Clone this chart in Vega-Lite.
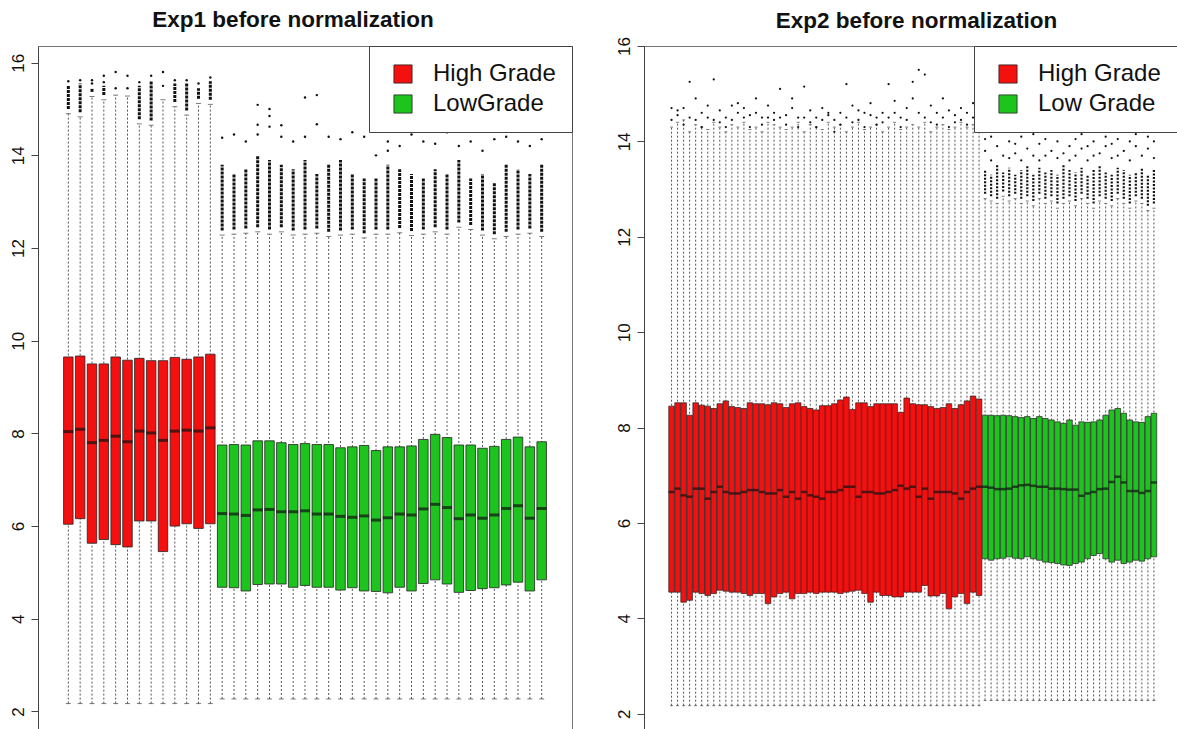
{
"$schema": "https://vega.github.io/schema/vega-lite/v6.json",
"padding": {"left": 0, "top": 8, "right": 0, "bottom": 0},
"spacing": 72,
"bounds": "flush",
"config": {
  "font": "Liberation Sans",
  "view": {"stroke": "#777", "strokeWidth": 1},
  "axis": {"grid": false},
  "title": {"fontSize": 22.5, "font": "Liberation Sans", "fontWeight": "bold", "color": "#111", "frame": "group"}
},
"resolve": {"scale": {"color": "independent"}},
"datasets": {
"b1": [
{"i":1,"g":"High Grade","lo":2.17,"q1":6.04,"md":8.04,"q3":9.65,"hi":14.9,"dl":15.0,"dh":15.5},
{"i":2,"g":"High Grade","lo":2.17,"q1":6.16,"md":8.09,"q3":9.67,"hi":14.83,"dl":14.93,"dh":15.55},
{"i":3,"g":"High Grade","lo":2.17,"q1":5.63,"md":7.80,"q3":9.50,"hi":15.27,"dl":15.37,"dh":15.45},
{"i":4,"g":"High Grade","lo":2.17,"q1":5.71,"md":7.85,"q3":9.50,"hi":15.2,"dl":15.3,"dh":15.5},
{"i":5,"g":"High Grade","lo":2.17,"q1":5.60,"md":7.94,"q3":9.65,"hi":15.3,"dl":null,"dh":null},
{"i":6,"g":"High Grade","lo":2.17,"q1":5.55,"md":7.82,"q3":9.58,"hi":15.28,"dl":null,"dh":null},
{"i":7,"g":"High Grade","lo":2.17,"q1":6.11,"md":8.05,"q3":9.62,"hi":14.68,"dl":14.78,"dh":15.5},
{"i":8,"g":"High Grade","lo":2.17,"q1":6.11,"md":8.01,"q3":9.57,"hi":14.65,"dl":14.75,"dh":15.6},
{"i":9,"g":"High Grade","lo":2.17,"q1":5.45,"md":7.85,"q3":9.57,"hi":15.2,"dl":null,"dh":null},
{"i":10,"g":"High Grade","lo":2.17,"q1":6.00,"md":8.05,"q3":9.64,"hi":15.05,"dl":15.15,"dh":15.55},
{"i":11,"g":"High Grade","lo":2.17,"q1":6.05,"md":8.07,"q3":9.60,"hi":14.87,"dl":14.97,"dh":15.55},
{"i":12,"g":"High Grade","lo":2.17,"q1":5.95,"md":8.05,"q3":9.65,"hi":15.12,"dl":15.22,"dh":15.45},
{"i":13,"g":"High Grade","lo":2.17,"q1":6.05,"md":8.12,"q3":9.71,"hi":15.1,"dl":15.2,"dh":15.6},
{"i":14,"g":"LowGrade","lo":2.27,"q1":4.68,"md":6.27,"q3":7.75,"hi":12.28,"dl":12.38,"dh":13.8},
{"i":15,"g":"LowGrade","lo":2.27,"q1":4.67,"md":6.26,"q3":7.76,"hi":12.30,"dl":12.4,"dh":13.6},
{"i":16,"g":"LowGrade","lo":2.27,"q1":4.60,"md":6.23,"q3":7.75,"hi":12.32,"dl":12.42,"dh":13.7},
{"i":17,"g":"LowGrade","lo":2.27,"q1":4.74,"md":6.35,"q3":7.84,"hi":12.35,"dl":12.45,"dh":14.0},
{"i":18,"g":"LowGrade","lo":2.27,"q1":4.75,"md":6.36,"q3":7.84,"hi":12.30,"dl":12.4,"dh":13.9},
{"i":19,"g":"LowGrade","lo":2.27,"q1":4.75,"md":6.31,"q3":7.80,"hi":12.35,"dl":12.45,"dh":13.8},
{"i":20,"g":"LowGrade","lo":2.27,"q1":4.68,"md":6.31,"q3":7.76,"hi":12.28,"dl":12.38,"dh":13.7},
{"i":21,"g":"LowGrade","lo":2.27,"q1":4.72,"md":6.33,"q3":7.78,"hi":12.30,"dl":12.4,"dh":13.9},
{"i":22,"g":"LowGrade","lo":2.27,"q1":4.68,"md":6.26,"q3":7.76,"hi":12.32,"dl":12.42,"dh":13.6},
{"i":23,"g":"LowGrade","lo":2.27,"q1":4.68,"md":6.26,"q3":7.76,"hi":12.25,"dl":12.35,"dh":13.8},
{"i":24,"g":"LowGrade","lo":2.27,"q1":4.62,"md":6.21,"q3":7.69,"hi":12.28,"dl":12.38,"dh":13.9},
{"i":25,"g":"LowGrade","lo":2.27,"q1":4.67,"md":6.19,"q3":7.71,"hi":12.30,"dl":12.4,"dh":13.6},
{"i":26,"g":"LowGrade","lo":2.27,"q1":4.60,"md":6.22,"q3":7.74,"hi":12.22,"dl":12.32,"dh":13.5},
{"i":27,"g":"LowGrade","lo":2.27,"q1":4.59,"md":6.13,"q3":7.63,"hi":12.30,"dl":12.4,"dh":13.5},
{"i":28,"g":"LowGrade","lo":2.27,"q1":4.56,"md":6.18,"q3":7.71,"hi":12.30,"dl":12.4,"dh":13.8},
{"i":29,"g":"LowGrade","lo":2.27,"q1":4.68,"md":6.26,"q3":7.71,"hi":12.33,"dl":12.43,"dh":13.7},
{"i":30,"g":"LowGrade","lo":2.27,"q1":4.60,"md":6.24,"q3":7.73,"hi":12.27,"dl":12.37,"dh":13.6},
{"i":31,"g":"LowGrade","lo":2.27,"q1":4.76,"md":6.37,"q3":7.87,"hi":12.30,"dl":12.4,"dh":13.5},
{"i":32,"g":"LowGrade","lo":2.27,"q1":4.84,"md":6.47,"q3":7.98,"hi":12.35,"dl":12.45,"dh":13.7},
{"i":33,"g":"LowGrade","lo":2.27,"q1":4.75,"md":6.40,"q3":7.91,"hi":12.30,"dl":12.4,"dh":13.6},
{"i":34,"g":"LowGrade","lo":2.27,"q1":4.57,"md":6.16,"q3":7.75,"hi":12.45,"dl":12.55,"dh":13.9},
{"i":35,"g":"LowGrade","lo":2.27,"q1":4.61,"md":6.24,"q3":7.75,"hi":12.40,"dl":12.5,"dh":13.5},
{"i":36,"g":"LowGrade","lo":2.27,"q1":4.65,"md":6.17,"q3":7.68,"hi":12.28,"dl":12.38,"dh":13.6},
{"i":37,"g":"LowGrade","lo":2.27,"q1":4.67,"md":6.24,"q3":7.72,"hi":12.20,"dl":12.3,"dh":13.4},
{"i":38,"g":"LowGrade","lo":2.27,"q1":4.73,"md":6.38,"q3":7.87,"hi":12.25,"dl":12.35,"dh":13.8},
{"i":39,"g":"LowGrade","lo":2.27,"q1":4.79,"md":6.44,"q3":7.92,"hi":12.30,"dl":12.4,"dh":13.7},
{"i":40,"g":"LowGrade","lo":2.27,"q1":4.60,"md":6.17,"q3":7.71,"hi":12.32,"dl":12.42,"dh":13.6},
{"i":41,"g":"LowGrade","lo":2.27,"q1":4.84,"md":6.38,"q3":7.82,"hi":12.25,"dl":12.35,"dh":13.8}
],
"o1": [
{"i":1,"v":15.6},{"i":2,"v":15.62},{"i":3,"v":15.62},{"i":3,"v":15.55},{"i":4,"v":15.72},{"i":4,"v":15.58},{"i":5,"v":15.8},{"i":5,"v":15.45},{"i":6,"v":15.72},{"i":6,"v":15.45},{"i":7,"v":15.58},{"i":8,"v":15.72},{"i":9,"v":15.8},{"i":9,"v":15.5},{"i":10,"v":15.62},{"i":11,"v":15.62},{"i":12,"v":15.55},{"i":13,"v":15.68},
{"i":14,"v":14.38},{"i":15,"v":14.45},{"i":16,"v":14.3},{"i":17,"v":14.66},{"i":17,"v":14.45},{"i":17,"v":15.09},{"i":18,"v":15.0},{"i":18,"v":14.85},{"i":18,"v":14.62},{"i":19,"v":14.65},{"i":19,"v":14.4},{"i":20,"v":14.3},{"i":21,"v":15.25},{"i":21,"v":14.4},{"i":22,"v":15.3},{"i":22,"v":14.67},{"i":23,"v":14.4},{"i":24,"v":14.35},{"i":25,"v":14.5},{"i":26,"v":14.4},{"i":27,"v":14.0},{"i":28,"v":14.1},{"i":28,"v":14.3},{"i":29,"v":14.2},{"i":30,"v":14.45},{"i":31,"v":14.3},{"i":32,"v":14.25},{"i":33,"v":14.5},{"i":34,"v":14.2},{"i":35,"v":14.3},{"i":36,"v":14.1},{"i":37,"v":14.35},{"i":38,"v":14.4},{"i":39,"v":14.3},{"i":40,"v":14.2},{"i":41,"v":14.35}
],
"b2": [
{"i":1,"g":"High Grade","lo":2.17,"q1":4.55,"md":6.65,"q3":8.45,"hi":14.3},
{"i":2,"g":"High Grade","lo":2.17,"q1":4.55,"md":6.72,"q3":8.52,"hi":14.4},
{"i":3,"g":"High Grade","lo":2.17,"q1":4.34,"md":6.58,"q3":8.52,"hi":14.45},
{"i":4,"g":"High Grade","lo":2.17,"q1":4.38,"md":6.55,"q3":8.26,"hi":14.2},
{"i":5,"g":"High Grade","lo":2.17,"q1":4.55,"md":6.72,"q3":8.52,"hi":14.35},
{"i":6,"g":"High Grade","lo":2.17,"q1":4.52,"md":6.72,"q3":8.47,"hi":14.3},
{"i":7,"g":"High Grade","lo":2.17,"q1":4.48,"md":6.51,"q3":8.45,"hi":14.25},
{"i":8,"g":"High Grade","lo":2.17,"q1":4.52,"md":6.65,"q3":8.40,"hi":14.4},
{"i":9,"g":"High Grade","lo":2.17,"q1":4.59,"md":6.76,"q3":8.50,"hi":14.3},
{"i":10,"g":"High Grade","lo":2.17,"q1":4.57,"md":6.65,"q3":8.56,"hi":14.2},
{"i":11,"g":"High Grade","lo":2.17,"q1":4.55,"md":6.62,"q3":8.44,"hi":14.35},
{"i":12,"g":"High Grade","lo":2.17,"q1":4.55,"md":6.62,"q3":8.42,"hi":14.3},
{"i":13,"g":"High Grade","lo":2.17,"q1":4.52,"md":6.65,"q3":8.40,"hi":14.4},
{"i":14,"g":"High Grade","lo":2.17,"q1":4.48,"md":6.69,"q3":8.52,"hi":14.25},
{"i":15,"g":"High Grade","lo":2.17,"q1":4.52,"md":6.69,"q3":8.50,"hi":14.3},
{"i":16,"g":"High Grade","lo":2.17,"q1":4.52,"md":6.65,"q3":8.50,"hi":14.2},
{"i":17,"g":"High Grade","lo":2.17,"q1":4.31,"md":6.62,"q3":8.48,"hi":14.4},
{"i":18,"g":"High Grade","lo":2.17,"q1":4.45,"md":6.62,"q3":8.52,"hi":14.35},
{"i":19,"g":"High Grade","lo":2.17,"q1":4.52,"md":6.69,"q3":8.50,"hi":14.3},
{"i":20,"g":"High Grade","lo":2.17,"q1":4.55,"md":6.55,"q3":8.42,"hi":14.25},
{"i":21,"g":"High Grade","lo":2.17,"q1":4.41,"md":6.65,"q3":8.50,"hi":14.3},
{"i":22,"g":"High Grade","lo":2.17,"q1":4.52,"md":6.51,"q3":8.52,"hi":14.4},
{"i":23,"g":"High Grade","lo":2.17,"q1":4.52,"md":6.65,"q3":8.44,"hi":14.2},
{"i":24,"g":"High Grade","lo":2.17,"q1":4.55,"md":6.58,"q3":8.40,"hi":14.35},
{"i":25,"g":"High Grade","lo":2.17,"q1":4.52,"md":6.55,"q3":8.37,"hi":14.3},
{"i":26,"g":"High Grade","lo":2.17,"q1":4.55,"md":6.51,"q3":8.46,"hi":14.25},
{"i":27,"g":"High Grade","lo":2.17,"q1":4.55,"md":6.65,"q3":8.46,"hi":14.4},
{"i":28,"g":"High Grade","lo":2.17,"q1":4.55,"md":6.65,"q3":8.50,"hi":14.3},
{"i":29,"g":"High Grade","lo":2.17,"q1":4.52,"md":6.69,"q3":8.58,"hi":14.35},
{"i":30,"g":"High Grade","lo":2.17,"q1":4.55,"md":6.76,"q3":8.64,"hi":14.2},
{"i":31,"g":"High Grade","lo":2.17,"q1":4.57,"md":6.76,"q3":8.38,"hi":14.3},
{"i":32,"g":"High Grade","lo":2.17,"q1":4.59,"md":6.55,"q3":8.52,"hi":14.4},
{"i":33,"g":"High Grade","lo":2.17,"q1":4.52,"md":6.65,"q3":8.52,"hi":14.25},
{"i":34,"g":"High Grade","lo":2.17,"q1":4.34,"md":6.65,"q3":8.44,"hi":14.3},
{"i":35,"g":"High Grade","lo":2.17,"q1":4.55,"md":6.62,"q3":8.50,"hi":14.35},
{"i":36,"g":"High Grade","lo":2.17,"q1":4.48,"md":6.62,"q3":8.50,"hi":14.2},
{"i":37,"g":"High Grade","lo":2.17,"q1":4.48,"md":6.65,"q3":8.50,"hi":14.3},
{"i":38,"g":"High Grade","lo":2.17,"q1":4.45,"md":6.69,"q3":8.50,"hi":14.4},
{"i":39,"g":"High Grade","lo":2.17,"q1":4.45,"md":6.78,"q3":8.32,"hi":14.25},
{"i":40,"g":"High Grade","lo":2.17,"q1":4.55,"md":6.72,"q3":8.62,"hi":14.3},
{"i":41,"g":"High Grade","lo":2.17,"q1":4.55,"md":6.76,"q3":8.50,"hi":14.35},
{"i":42,"g":"High Grade","lo":2.17,"q1":4.55,"md":6.55,"q3":8.48,"hi":14.3},
{"i":43,"g":"High Grade","lo":2.17,"q1":4.69,"md":6.72,"q3":8.48,"hi":14.4},
{"i":44,"g":"High Grade","lo":2.17,"q1":4.47,"md":6.51,"q3":8.44,"hi":14.2},
{"i":45,"g":"High Grade","lo":2.17,"q1":4.47,"md":6.65,"q3":8.40,"hi":14.3},
{"i":46,"g":"High Grade","lo":2.17,"q1":4.52,"md":6.65,"q3":8.42,"hi":14.35},
{"i":47,"g":"High Grade","lo":2.17,"q1":4.20,"md":6.65,"q3":8.50,"hi":14.25},
{"i":48,"g":"High Grade","lo":2.17,"q1":4.45,"md":6.62,"q3":8.40,"hi":14.3},
{"i":49,"g":"High Grade","lo":2.17,"q1":4.52,"md":6.51,"q3":8.48,"hi":14.4},
{"i":50,"g":"High Grade","lo":2.17,"q1":4.31,"md":6.65,"q3":8.56,"hi":14.3},
{"i":51,"g":"High Grade","lo":2.17,"q1":4.55,"md":6.72,"q3":8.66,"hi":14.35},
{"i":52,"g":"High Grade","lo":2.17,"q1":4.48,"md":6.76,"q3":8.60,"hi":14.25},
{"i":53,"g":"Low Grade","lo":2.28,"q1":5.25,"md":6.76,"q3":8.26,"hi":12.8,"dl":12.9,"dh":13.4},
{"i":54,"g":"Low Grade","lo":2.28,"q1":5.22,"md":6.74,"q3":8.26,"hi":12.75,"dl":12.85,"dh":13.3},
{"i":55,"g":"Low Grade","lo":2.28,"q1":5.25,"md":6.71,"q3":8.25,"hi":12.7,"dl":12.8,"dh":13.5},
{"i":56,"g":"Low Grade","lo":2.28,"q1":5.26,"md":6.71,"q3":8.26,"hi":12.85,"dl":12.95,"dh":13.35},
{"i":57,"g":"Low Grade","lo":2.28,"q1":5.29,"md":6.72,"q3":8.25,"hi":12.75,"dl":12.85,"dh":13.45},
{"i":58,"g":"Low Grade","lo":2.28,"q1":5.26,"md":6.76,"q3":8.23,"hi":12.8,"dl":12.9,"dh":13.3},
{"i":59,"g":"Low Grade","lo":2.28,"q1":5.25,"md":6.79,"q3":8.21,"hi":12.7,"dl":12.8,"dh":13.4},
{"i":60,"g":"Low Grade","lo":2.28,"q1":5.29,"md":6.80,"q3":8.23,"hi":12.75,"dl":12.85,"dh":13.5},
{"i":61,"g":"Low Grade","lo":2.28,"q1":5.25,"md":6.78,"q3":8.19,"hi":12.65,"dl":12.75,"dh":13.3},
{"i":62,"g":"Low Grade","lo":2.28,"q1":5.22,"md":6.76,"q3":8.23,"hi":12.8,"dl":12.9,"dh":13.45},
{"i":63,"g":"Low Grade","lo":2.28,"q1":5.18,"md":6.76,"q3":8.19,"hi":12.7,"dl":12.8,"dh":13.35},
{"i":64,"g":"Low Grade","lo":2.28,"q1":5.17,"md":6.72,"q3":8.16,"hi":12.75,"dl":12.85,"dh":13.4},
{"i":65,"g":"Low Grade","lo":2.28,"q1":5.15,"md":6.72,"q3":8.12,"hi":12.6,"dl":12.7,"dh":13.3},
{"i":66,"g":"Low Grade","lo":2.28,"q1":5.12,"md":6.71,"q3":8.09,"hi":12.7,"dl":12.8,"dh":13.5},
{"i":67,"g":"Low Grade","lo":2.28,"q1":5.11,"md":6.70,"q3":8.16,"hi":12.75,"dl":12.85,"dh":13.4},
{"i":68,"g":"Low Grade","lo":2.28,"q1":5.15,"md":6.70,"q3":8.05,"hi":12.65,"dl":12.75,"dh":13.35},
{"i":69,"g":"Low Grade","lo":2.28,"q1":5.18,"md":6.57,"q3":8.12,"hi":12.8,"dl":12.9,"dh":13.45},
{"i":70,"g":"Low Grade","lo":2.28,"q1":5.25,"md":6.62,"q3":8.11,"hi":12.7,"dl":12.8,"dh":13.3},
{"i":71,"g":"Low Grade","lo":2.28,"q1":5.32,"md":6.65,"q3":8.12,"hi":12.6,"dl":12.7,"dh":13.4},
{"i":72,"g":"Low Grade","lo":2.28,"q1":5.36,"md":6.71,"q3":8.16,"hi":12.75,"dl":12.85,"dh":13.5},
{"i":73,"g":"Low Grade","lo":2.28,"q1":5.25,"md":6.72,"q3":8.26,"hi":12.7,"dl":12.8,"dh":13.35},
{"i":74,"g":"Low Grade","lo":2.28,"q1":5.18,"md":6.86,"q3":8.37,"hi":12.65,"dl":12.75,"dh":13.3},
{"i":75,"g":"Low Grade","lo":2.28,"q1":5.22,"md":6.97,"q3":8.40,"hi":12.8,"dl":12.9,"dh":13.45},
{"i":76,"g":"Low Grade","lo":2.28,"q1":5.15,"md":6.85,"q3":8.30,"hi":12.7,"dl":12.8,"dh":13.4},
{"i":77,"g":"Low Grade","lo":2.28,"q1":5.18,"md":6.67,"q3":8.16,"hi":12.6,"dl":12.7,"dh":13.3},
{"i":78,"g":"Low Grade","lo":2.28,"q1":5.22,"md":6.67,"q3":8.12,"hi":12.75,"dl":12.85,"dh":13.35},
{"i":79,"g":"Low Grade","lo":2.28,"q1":5.20,"md":6.63,"q3":8.11,"hi":12.7,"dl":12.8,"dh":13.45},
{"i":80,"g":"Low Grade","lo":2.28,"q1":5.25,"md":6.67,"q3":8.23,"hi":12.55,"dl":12.65,"dh":13.3},
{"i":81,"g":"Low Grade","lo":2.28,"q1":5.29,"md":6.85,"q3":8.30,"hi":12.6,"dl":12.7,"dh":13.4}
],
"o2": [
{"i":1,"v":14.45},{"i":1,"v":14.7},{"i":2,"v":14.55},{"i":2,"v":14.65},{"i":3,"v":14.7},{"i":3,"v":14.35},{"i":4,"v":15.25},{"i":4,"v":14.5},{"i":5,"v":14.45},{"i":5,"v":14.9},{"i":6,"v":14.6},{"i":6,"v":14.3},{"i":7,"v":14.5},{"i":7,"v":14.75},{"i":8,"v":15.3},{"i":8,"v":14.45},{"i":9,"v":14.65},{"i":9,"v":14.4},{"i":10,"v":14.5},{"i":10,"v":14.3},{"i":11,"v":14.75},{"i":11,"v":14.45},{"i":12,"v":14.8},{"i":12,"v":14.6},{"i":13,"v":14.7},{"i":13,"v":14.5},{"i":14,"v":14.55},{"i":14,"v":14.3},{"i":15,"v":14.9},{"i":15,"v":14.6},{"i":16,"v":14.5},{"i":16,"v":14.35},{"i":17,"v":14.75},{"i":17,"v":14.5},{"i":18,"v":14.6},{"i":18,"v":14.45},{"i":19,"v":15.1},{"i":19,"v":14.5},{"i":20,"v":14.55},{"i":20,"v":14.35},{"i":21,"v":14.9},{"i":21,"v":14.7},{"i":22,"v":14.5},{"i":22,"v":14.3},{"i":23,"v":15.15},{"i":23,"v":14.5},{"i":24,"v":14.65},{"i":24,"v":14.4},{"i":25,"v":14.5},{"i":25,"v":14.3},{"i":26,"v":14.7},{"i":26,"v":14.45},{"i":27,"v":14.55},{"i":27,"v":14.6},{"i":28,"v":14.45},{"i":28,"v":14.2},{"i":29,"v":14.6},{"i":29,"v":14.35},{"i":30,"v":15.2},{"i":30,"v":14.5},{"i":31,"v":14.75},{"i":31,"v":14.4},{"i":32,"v":14.65},{"i":32,"v":14.45},{"i":33,"v":14.6},{"i":33,"v":14.3},{"i":34,"v":14.8},{"i":34,"v":14.55},{"i":35,"v":14.5},{"i":35,"v":14.35},{"i":36,"v":14.6},{"i":36,"v":14.4},{"i":37,"v":15.2},{"i":37,"v":14.5},{"i":38,"v":14.85},{"i":38,"v":14.6},{"i":39,"v":14.5},{"i":39,"v":14.3},{"i":40,"v":14.7},{"i":40,"v":14.45},{"i":41,"v":15.25},{"i":41,"v":14.9},{"i":42,"v":15.5},{"i":42,"v":14.6},{"i":43,"v":15.4},{"i":43,"v":14.5},{"i":44,"v":14.75},{"i":44,"v":14.4},{"i":45,"v":14.6},{"i":45,"v":14.35},{"i":46,"v":14.9},{"i":46,"v":14.5},{"i":47,"v":14.65},{"i":47,"v":14.3},{"i":48,"v":14.55},{"i":48,"v":14.4},{"i":49,"v":14.7},{"i":49,"v":14.45},{"i":50,"v":14.6},{"i":50,"v":14.35},{"i":51,"v":14.8},{"i":51,"v":14.5},{"i":52,"v":14.75},{"i":52,"v":14.4},
{"i":53,"v":13.8},{"i":53,"v":14.05},{"i":54,"v":13.6},{"i":54,"v":14.1},{"i":55,"v":13.9},{"i":56,"v":13.7},{"i":56,"v":14.2},{"i":57,"v":13.65},{"i":57,"v":14.0},{"i":58,"v":13.75},{"i":58,"v":13.95},{"i":59,"v":14.1},{"i":59,"v":13.6},{"i":60,"v":13.85},{"i":61,"v":13.7},{"i":61,"v":14.15},{"i":62,"v":13.6},{"i":62,"v":13.95},{"i":63,"v":14.05},{"i":63,"v":13.7},{"i":64,"v":13.8},{"i":65,"v":13.65},{"i":65,"v":14.0},{"i":66,"v":14.2},{"i":66,"v":13.75},{"i":67,"v":13.9},{"i":67,"v":13.6},{"i":68,"v":13.7},{"i":68,"v":14.05},{"i":69,"v":13.85},{"i":69,"v":14.15},{"i":70,"v":13.6},{"i":70,"v":13.9},{"i":71,"v":14.0},{"i":71,"v":13.7},{"i":72,"v":13.75},{"i":73,"v":13.9},{"i":73,"v":14.1},{"i":74,"v":13.65},{"i":74,"v":13.95},{"i":75,"v":14.05},{"i":75,"v":13.7},{"i":76,"v":13.8},{"i":77,"v":13.6},{"i":77,"v":14.0},{"i":78,"v":13.9},{"i":78,"v":14.15},{"i":79,"v":13.7},{"i":80,"v":13.85},{"i":80,"v":14.1},{"i":81,"v":14.0},{"i":81,"v":13.65}
]
},
"hconcat": [
{
  "width": 534, "height": 684,
  "title": {"text": "Exp1 before normalization", "dx": -12, "offset": 14},
  "data": {"name": "b1"},
  "encoding": {"x": {"field": "i", "type": "quantitative", "scale": {"domain": [-1.14, 43.14], "nice": false, "zero": false}, "axis": null}},
  "layer": [
    {"mark": {"type": "rule", "strokeDash": [2, 2], "color": "#555", "strokeWidth": 1},
     "encoding": {"y": {"field": "lo", "type": "quantitative", "title": null,
        "scale": {"domain": [1.6, 16.36], "nice": false, "zero": false},
        "axis": {"values": [2, 4, 6, 8, 10, 12, 14, 16], "title": null, "labelAngle": 270, "labelFontSize": 17, "labelColor": "#111", "labelFont": "Liberation Sans", "tickSize": 7, "tickColor": "#444", "domainColor": "#444", "labelPadding": 4, "minExtent": 37, "maxExtent": 37}},
        "y2": {"field": "hi"}}},
    {"mark": {"type": "tick", "orient": "horizontal", "size": 5, "thickness": 1, "color": "#444"},
     "encoding": {"y": {"field": "lo", "type": "quantitative", "title": null}}},
    {"mark": {"type": "tick", "orient": "horizontal", "size": 5, "thickness": 1, "color": "#444"},
     "encoding": {"y": {"field": "hi", "type": "quantitative", "title": null}}},
    {"transform": [{"filter": "datum.dh != null"}],
     "mark": {"type": "rule", "strokeWidth": 3, "strokeDash": [3, 1], "color": "#111"},
     "encoding": {"y": {"field": "dl", "type": "quantitative", "title": null}, "y2": {"field": "dh"}}},
    {"data": {"name": "o1"},
     "mark": {"type": "circle", "size": 6, "color": "#111", "opacity": 1},
     "encoding": {"y": {"field": "v", "type": "quantitative", "title": null}}},
    {"mark": {"type": "bar", "width": 9.5, "stroke": "#222", "strokeWidth": 0.8},
     "encoding": {"y": {"field": "q1", "type": "quantitative", "title": null}, "y2": {"field": "q3"},
       "color": {"field": "g", "type": "nominal",
         "scale": {"domain": ["High Grade", "LowGrade"], "range": ["#f51010", "#1ec41e"]},
         "legend": {"orient": "top-right", "offset": 0, "title": null, "padding": 16, "strokeColor": "#444", "fillColor": "white", "symbolType": "square", "symbolSize": 330, "symbolStrokeColor": "#222", "symbolStrokeWidth": 0.8, "symbolOpacity": 1, "labelFontSize": 24, "labelOffset": 18, "rowPadding": 6, "labelFont": "Liberation Sans", "labelColor": "#111", "symbolOffset": 6}}}},
    {"mark": {"type": "tick", "orient": "horizontal", "size": 10, "thickness": 3, "color": "#111"},
     "encoding": {"y": {"field": "md", "type": "quantitative", "title": null}}}
  ]
},
{
  "width": 533, "height": 684,
  "title": {"text": "Exp2 before normalization", "dx": 6, "offset": 4.5},
  "data": {"name": "b2"},
  "encoding": {"x": {"field": "i", "type": "quantitative", "scale": {"domain": [-2.74, 84.0], "nice": false, "zero": false}, "axis": null}},
  "layer": [
    {"mark": {"type": "rule", "strokeDash": [2, 2], "color": "#555", "strokeWidth": 1},
     "encoding": {"y": {"field": "lo", "type": "quantitative", "title": null,
        "scale": {"domain": [1.66, 16.0], "nice": false, "zero": false},
        "axis": {"values": [2, 4, 6, 8, 10, 12, 14, 16], "title": null, "labelAngle": 270, "labelFontSize": 17, "labelColor": "#111", "labelFont": "Liberation Sans", "tickSize": 7, "tickColor": "#444", "domainColor": "#444", "labelPadding": 4, "minExtent": 37, "maxExtent": 37}},
        "y2": {"field": "hi"}}},
    {"mark": {"type": "tick", "orient": "horizontal", "size": 3, "thickness": 1, "color": "#444"},
     "encoding": {"y": {"field": "lo", "type": "quantitative", "title": null}}},
    {"mark": {"type": "tick", "orient": "horizontal", "size": 3, "thickness": 1, "color": "#444"},
     "encoding": {"y": {"field": "hi", "type": "quantitative", "title": null}}},
    {"transform": [{"filter": "datum.dh != null"}],
     "mark": {"type": "rule", "strokeWidth": 2.2, "strokeDash": [2, 1.5], "color": "#111"},
     "encoding": {"y": {"field": "dl", "type": "quantitative", "title": null}, "y2": {"field": "dh"}}},
    {"data": {"name": "o2"},
     "mark": {"type": "circle", "size": 5, "color": "#111", "opacity": 1},
     "encoding": {"y": {"field": "v", "type": "quantitative", "title": null}}},
    {"mark": {"type": "bar", "width": 5.6, "stroke": "#222", "strokeWidth": 0.7},
     "encoding": {"y": {"field": "q1", "type": "quantitative", "title": null}, "y2": {"field": "q3"},
       "color": {"field": "g", "type": "nominal",
         "scale": {"domain": ["High Grade", "Low Grade"], "range": ["#f51010", "#1ec41e"]},
         "legend": {"orient": "top-right", "offset": 0, "title": null, "padding": 16, "strokeColor": "#444", "fillColor": "white", "symbolType": "square", "symbolSize": 330, "symbolStrokeColor": "#222", "symbolStrokeWidth": 0.8, "symbolOpacity": 1, "labelFontSize": 24, "labelOffset": 18, "rowPadding": 6, "labelFont": "Liberation Sans", "labelColor": "#111", "symbolOffset": 6}}}},
    {"mark": {"type": "tick", "orient": "horizontal", "size": 6, "thickness": 2.5, "color": "#111"},
     "encoding": {"y": {"field": "md", "type": "quantitative", "title": null}}}
  ]
}
]
}
